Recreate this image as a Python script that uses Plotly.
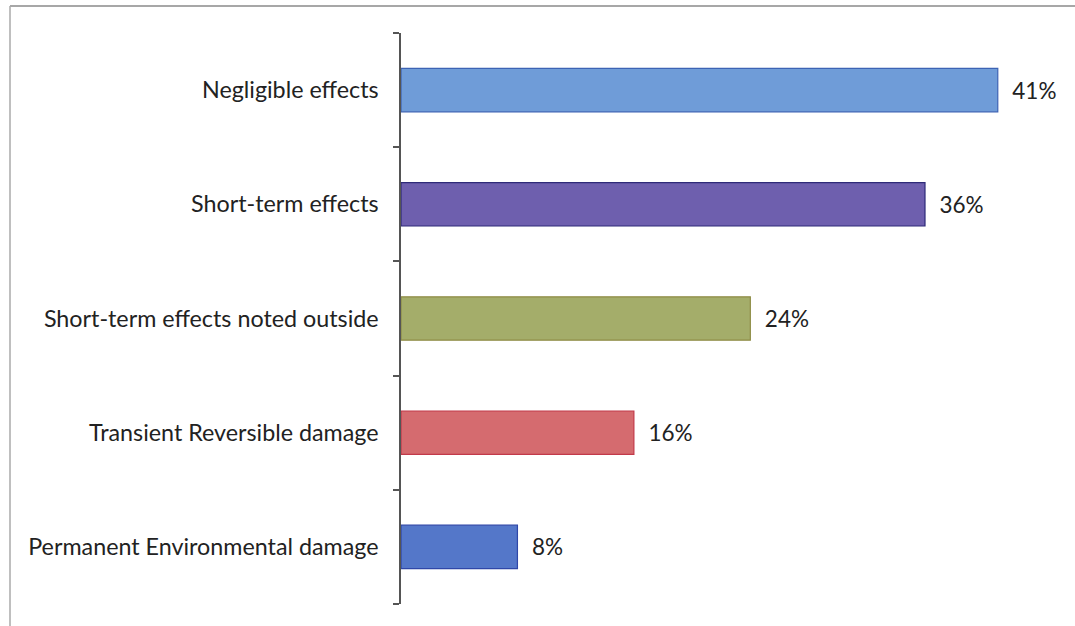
import plotly.graph_objects as go

categories = ["Negligible effects", "Short-term effects", "Short-term effects noted outside",
              "Transient Reversible damage", "Permanent Environmental damage"]
values = [41, 36, 24, 16, 8]
labels = ["41%", "36%", "24%", "16%", "8%"]
fill_colors = ["#6f9cd8", "#6e5fae", "#a4ad6a", "#d56b6f", "#5477c9"]
line_colors = ["#3d63b4", "#2e2a78", "#8e8c45", "#c23a4a", "#2f47a8"]

FONT = "Lato, 'Open Sans', sans-serif"

W, H = 1075, 626
L, R, T, B = 401, 19, 33, 22
PW, PH = W - L - R, H - T - B

fig = go.Figure(go.Bar(
    x=values, y=categories, orientation="h",
    marker=dict(color=fill_colors, line=dict(color=line_colors, width=1.2)),
    text=labels, texttemplate="\u00a0\u00a0%{text}",
    textposition="outside", cliponaxis=False,
    textfont=dict(family=FONT, size=22.5, color="#222222"),
    width=0.38,
))

fig.update_layout(
    width=W, height=H,
    margin=dict(l=L, r=R, t=T, b=B),
    paper_bgcolor="white", plot_bgcolor="white",
    showlegend=False,
    font=dict(family=FONT, size=23, color="#222222"),
)
fig.update_xaxes(range=[0, 45], visible=False)
fig.update_yaxes(
    categoryorder="array", categoryarray=categories[::-1],
    showline=True, linecolor="#555555", linewidth=1.5,
    ticks="outside", tickson="boundaries", ticklen=6, tickcolor="#555555", tickwidth=1.5,
    ticklabelstandoff=16,
    showgrid=False, zeroline=False,
    tickfont=dict(family=FONT, size=23.3, color="#222222"),
)

# scanned frame lines (top and left)
fx = (10 - L) / PW
fy_top = 1 + (T - 6) / PH
fig.add_shape(type="line", xref="paper", yref="paper",
              x0=fx, x1=(W - L) / PW, y0=fy_top, y1=fy_top,
              line=dict(color="#8a8a8a", width=1.5))
fig.add_shape(type="line", xref="paper", yref="paper",
              x0=fx, x1=fx, y0=fy_top, y1=-B / PH,
              line=dict(color="#aaaaaa", width=1.5))

fig.write_html("out.html", config={"displayModeBar": False},
               post_script="document.body.style.margin='0';")
